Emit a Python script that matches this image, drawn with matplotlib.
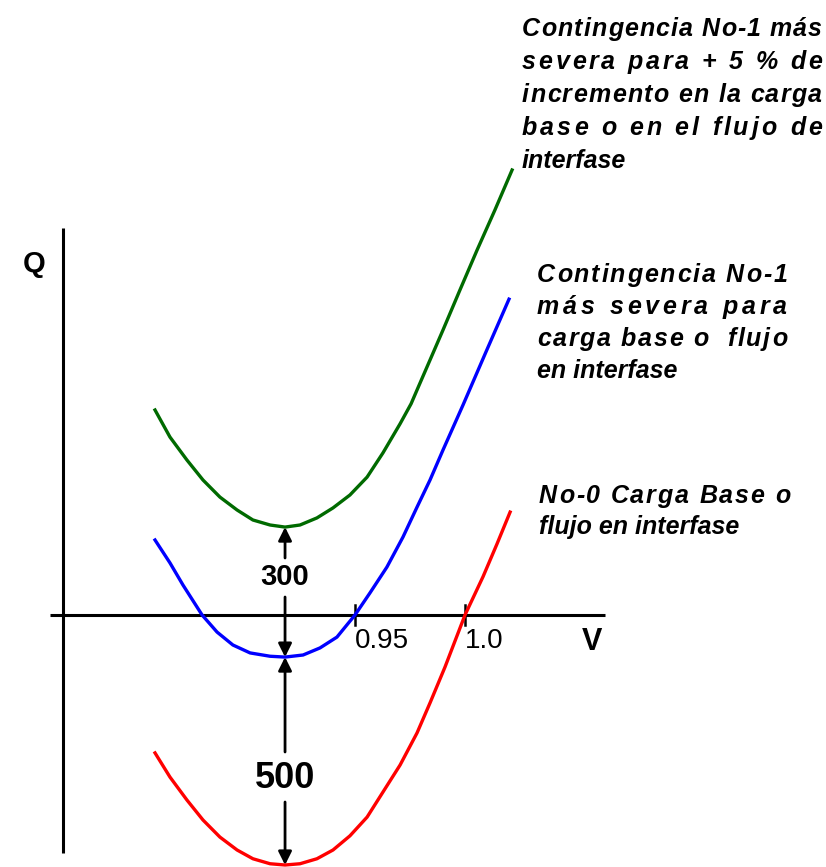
import matplotlib
matplotlib.use("Agg")
import matplotlib.pyplot as plt
from matplotlib import font_manager as fm
import numpy as np

plt.rcParams['font.family'] = ['Liberation Sans', 'DejaVu Sans']

# Curvas Q-V (V en p.u., Q en MVAr)
v_verde = [0.8591, 0.8659, 0.8736, 0.8809, 0.8886, 0.8964, 0.9036, 0.9114, 0.9182,
           0.9250, 0.9327, 0.9400, 0.9477, 0.9555, 0.9627, 0.9705, 0.9755, 0.9786,
           0.9841, 0.9900, 0.9977, 1.0055, 1.0136, 1.0214]
q_verde = [492, 427, 372, 324, 283, 252, 228, 216, 211,
           216, 233, 257, 288, 331, 389, 459, 507, 545,
           612, 684, 780, 876, 972, 1068]

v_azul = [0.8591, 0.8659, 0.8718, 0.8805, 0.8873, 0.8945, 0.9023, 0.9114, 0.9182,
          0.9264, 0.9341, 0.9418, 0.9500, 0.9568, 0.9645, 0.9718, 0.9782, 0.9841,
          0.9900, 0.9991, 1.0095, 1.0200]
q_azul = [180, 125, 72, 0, -41, -72, -91, -99, -101,
          -96, -79, -53, 0, 53, 115, 187, 259, 324,
          396, 504, 631, 758]

v_rojo = [0.8591, 0.8659, 0.8736, 0.8809, 0.8886, 0.8964, 0.9036, 0.9114, 0.9182,
          0.9250, 0.9327, 0.9400, 0.9477, 0.9555, 0.9627, 0.9705, 0.9782, 0.9841,
          0.9909, 1.0000, 1.0082, 1.0145, 1.0205]
q_rojo = [-331, -389, -444, -492, -533, -564, -585, -597, -600,
          -597, -585, -564, -530, -485, -425, -360, -283, -211,
          -125, 0, 92, 170, 247]

ticks_v = [0.95, 1.0]
ticks_lbl = ["0.95", "1.0"]

txt_verde = ["Contingencia No-1 más", "severa para + 5 % de", "incremento en la carga",
             "base o en el flujo de", "interfase"]
txt_azul = ["Contingencia No-1", "más severa para", "carga base o  flujo", "en interfase"]
txt_rojo = ["No-0 Carga Base o", "flujo en interfase"]


# conversión de posiciones de diseño (pixeles) a coordenadas de datos
def px2v(px):
    return 0.95 + (px - 355) / 2200.0


def py2q(py):
    return (615 - py) * 2.4


def fuente(estilo, peso, size):
    for f in fm.fontManager.ttflist:
        if f.name == 'Liberation Sans' and f.style == estilo and f.weight == peso:
            return fm.FontProperties(fname=f.fname, size=size)
    return fm.FontProperties(family='Liberation Sans', style=estilo, weight=peso, size=size)


fig = plt.figure(figsize=(8.26, 8.67), dpi=100)
ax = fig.add_axes([0, 0, 1, 1])
ax.set_xlim(px2v(0), px2v(826))
ax.set_ylim(py2q(867), py2q(0))
ax.axis('off')

# ejes
ax.plot([px2v(63), px2v(63)], [py2q(228), py2q(853)], color='black', lw=2.2, solid_capstyle='butt')
ax.plot([px2v(50), px2v(605)], [0, 0], color='black', lw=2.2, solid_capstyle='butt')
for tv, tl in zip(ticks_v, ticks_lbl):
    ax.plot([tv, tv], [py2q(605), py2q(625)], color='black', lw=1.8)
    ax.text(tv, py2q(648), tl, fontproperties=fuente('normal', 400, 20), ha='left', va='baseline')
ax.text(px2v(23), py2q(272), "Q", fontproperties=fuente('normal', 700, 21), va='baseline')
ax.text(px2v(582), py2q(650), "V", fontproperties=fuente('normal', 700, 22), va='baseline')

# curvas
ax.plot(v_verde, q_verde, color='#006a00', lw=2.4)
ax.plot(v_azul, q_azul, color='#0000ff', lw=2.4)
ax.plot(v_rojo, q_rojo, color='#ff0000', lw=2.4)

# flechas de margen entre mínimos
i_v = int(np.argmin(q_verde))
i_a = int(np.argmin(q_azul))
i_r = int(np.argmin(q_rojo))
xm = v_verde[i_v]
flecha = dict(arrowstyle='-|>', color='black', lw=2, mutation_scale=20, shrinkA=0, shrinkB=0)
ax.annotate('', xy=(xm, q_verde[i_v]), xytext=(xm, py2q(558)), arrowprops=flecha)
ax.annotate('', xy=(xm, q_azul[i_a]), xytext=(xm, py2q(597)), arrowprops=flecha)
ax.annotate('', xy=(xm, q_azul[i_a]), xytext=(xm, py2q(752)), arrowprops=flecha)
ax.annotate('', xy=(xm, q_rojo[i_r]), xytext=(xm, py2q(802)), arrowprops=flecha)
ax.text(xm, py2q(577), "300", fontproperties=fuente('normal', 700, 21), ha='center', va='center')
ax.text(xm, py2q(778), "500", fontproperties=fuente('normal', 700, 26), ha='center', va='center')

# textos justificados (espaciado entre letras)
renderer = fig.canvas.get_renderer()
fp_txt = fuente('italic', 700, 18)


def ancho(s):
    return renderer.get_text_width_height_descent(s, fp_txt, ismath=False)[0]


def justificado(lineas, x0, x1, y0, dy):
    for i, linea in enumerate(lineas):
        y = py2q(y0 + i * dy)
        if i == len(lineas) - 1:
            ax.text(px2v(x0), y, linea, fontproperties=fp_txt, va='baseline', ha='left')
            continue
        extra = (x1 - x0 - ancho(linea)) / (len(linea) - 1)
        for k, c in enumerate(linea):
            if c == ' ':
                continue
            xk = ancho(linea[:k + 1]) - ancho(c)
            ax.text(px2v(x0 + xk + k * extra), y, c, fontproperties=fp_txt,
                    va='baseline', ha='left')


justificado(txt_verde, 522, 822, 36, 33)
justificado(txt_azul, 537, 787, 282, 32)
justificado(txt_rojo, 539, 790, 503, 31)

fig.savefig("out.png", dpi=100)
